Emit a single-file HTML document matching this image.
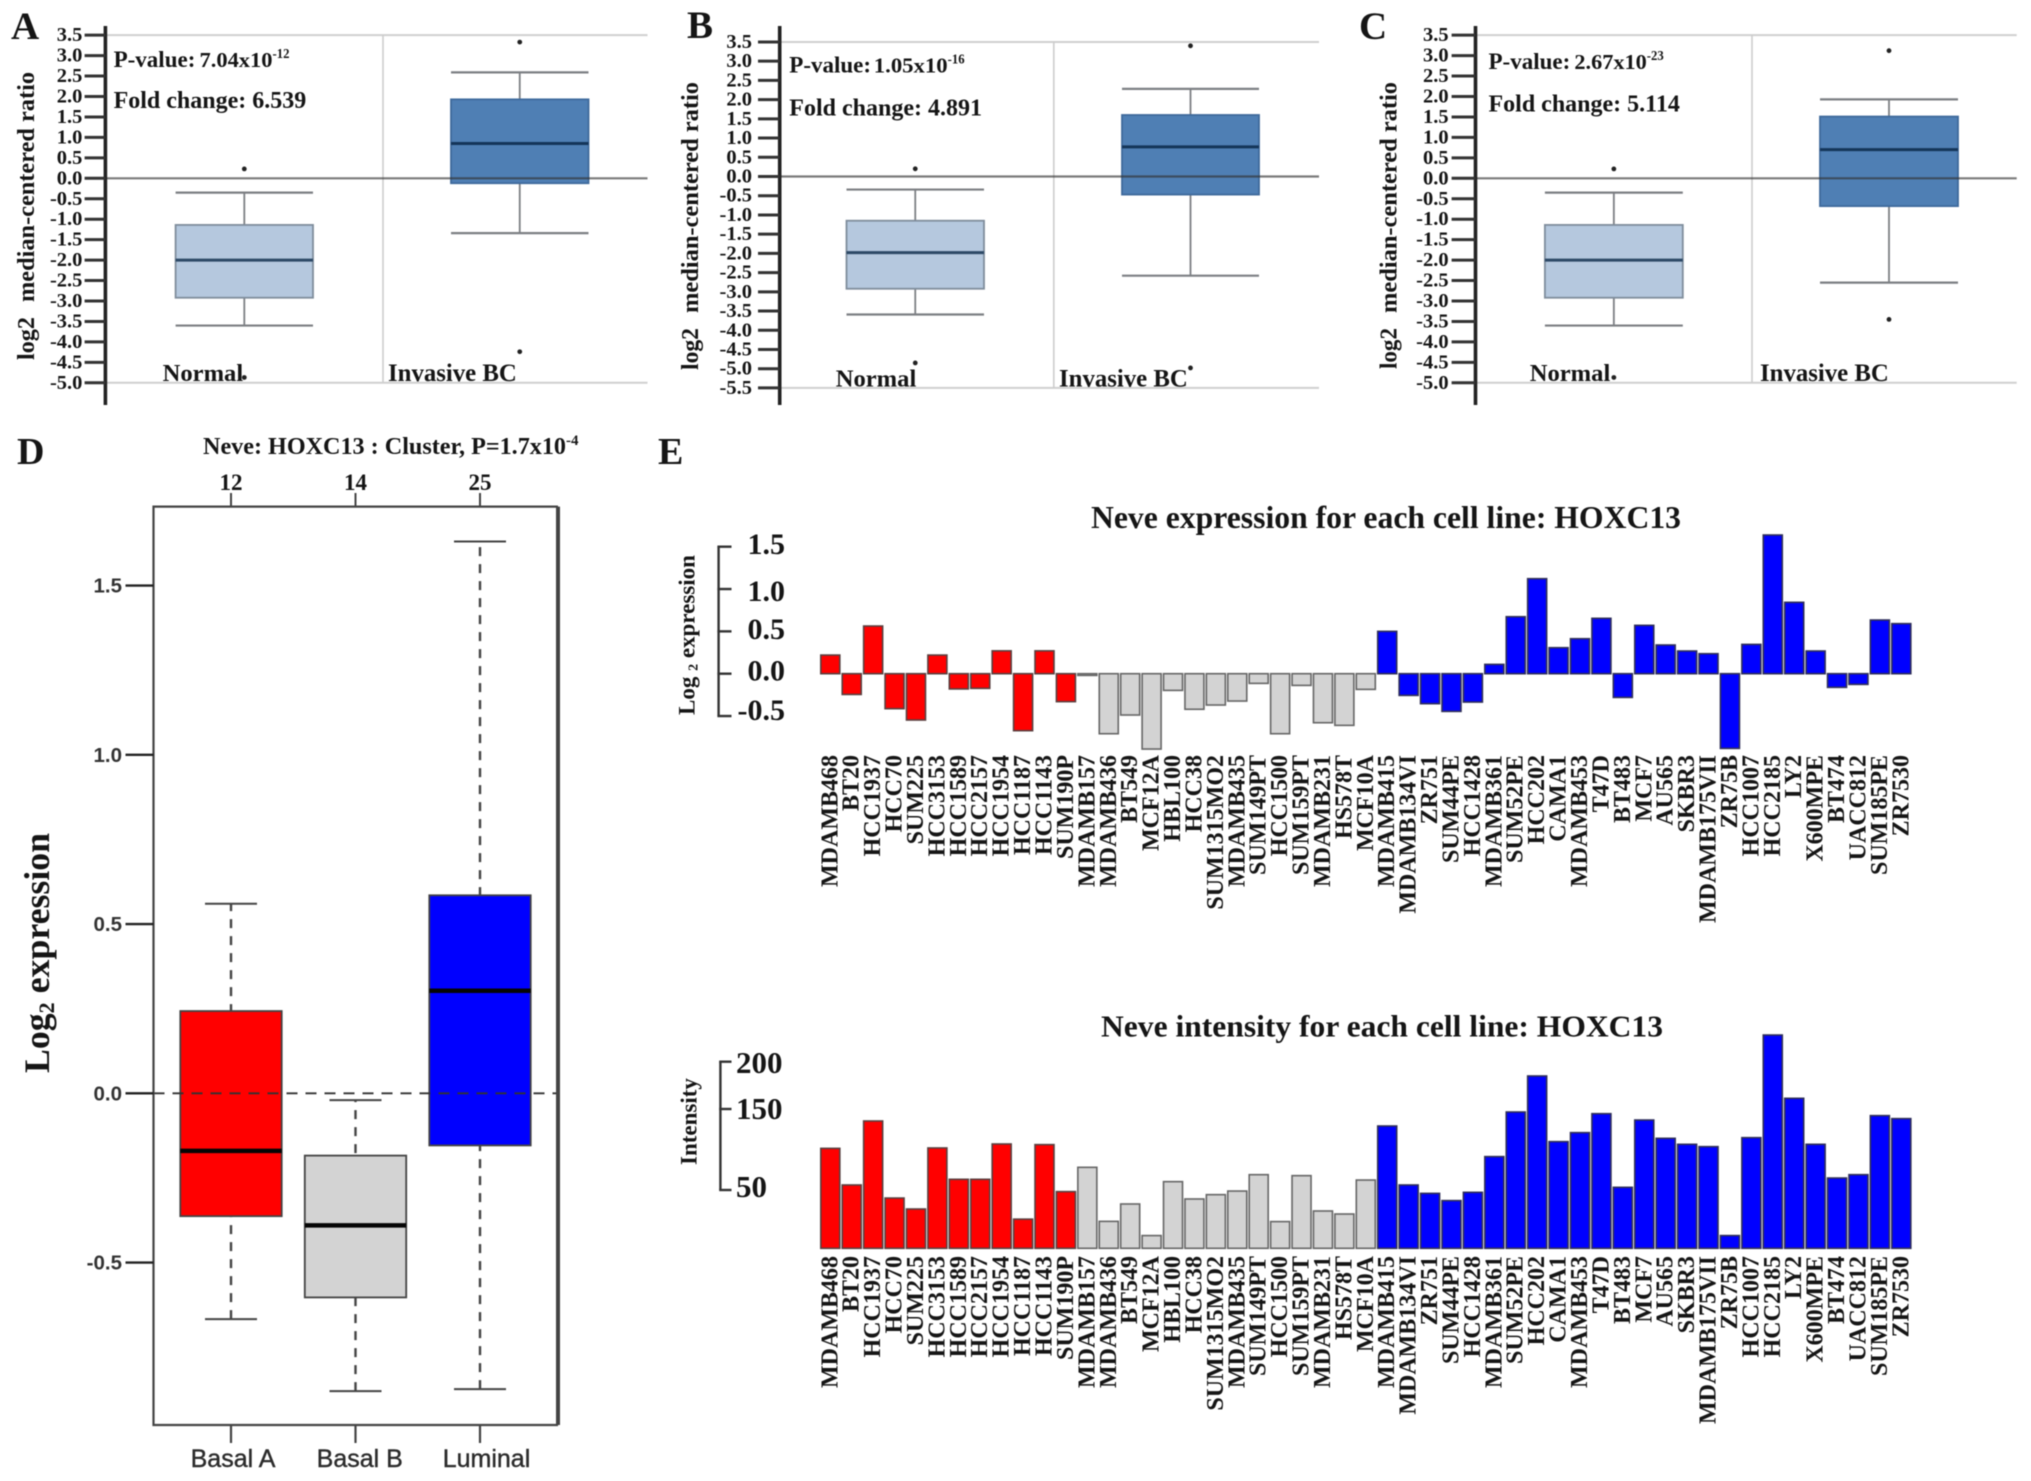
<!DOCTYPE html>
<html lang="en">
<head>
<meta charset="utf-8">
<title>HOXC13 expression figure</title>
<style>
html,body{margin:0;padding:0;background:#fff;}
svg{display:block;filter:blur(0.5px);}
text{font-family:"Liberation Serif",serif;font-weight:bold;fill:#151515;}
text.sans{font-family:"Liberation Sans",sans-serif;}
</style>
</head>
<body>
<svg id="figure" width="2031" height="1481" viewBox="0 0 2031 1481" xmlns="http://www.w3.org/2000/svg">
  <text x="11" y="39" font-size="39">A</text>
  <text x="687" y="38" font-size="39">B</text>
  <text x="1359" y="39" font-size="39">C</text>
  <text x="17" y="464" font-size="38">D</text>
  <text x="658" y="464" font-size="38">E</text>
</svg>
<script>
// ---------- Panels A-C: oncomine box plots (whiskerLow, q1, median, q3, whiskerHigh) ----------
const tickLabelsAC = [3.5,3,2.5,2,1.5,1,0.5,0,-0.5,-1,-1.5,-2,-2.5,-3,-3.5,-4,-4.5,-5];
const tickLabelsB = [3.5,3,2.5,2,1.5,1,0.5,0,-0.5,-1,-1.5,-2,-2.5,-3,-3.5,-4,-4.5,-5,-5.5];
const panelANormalBox = [-3.6,-2.92,-2.0,-1.14,-0.35];
const panelANormalOutliers = [0.23,-4.87];
const panelAInvasiveBox = [-1.34,-0.12,0.85,1.93,2.59];
const panelAInvasiveOutliers = [3.33,-4.24];
const panelBNormalBox = [-3.59,-2.92,-1.98,-1.15,-0.34];
const panelBNormalOutliers = [0.2,-4.85];
const panelBInvasiveBox = [-2.58,-0.47,0.77,1.6,2.28];
const panelBInvasiveOutliers = [3.4,-4.98];
const panelCNormalBox = [-3.6,-2.92,-2.0,-1.14,-0.35];
const panelCNormalOutliers = [0.23,-4.87];
const panelCInvasiveBox = [-2.55,-0.68,0.7,1.51,1.93];
const panelCInvasiveOutliers = [3.12,-3.45];
const panelStats = ['7.04x10','1.05x10','2.67x10'];
const panelExponents = ['-12','-16','-23'];
const panelFoldChanges = ['6.539','4.891','5.114'];

// ---------- Panel D: subtype box plot ----------
const subtypeNames = ['Basal A','Basal B','Luminal'];
const subtypeCounts = [12,14,25];
const basalABox = [-0.667,-0.363,-0.17,0.243,0.56];
const basalBBox = [-0.88,-0.603,-0.39,-0.184,-0.02];
const luminalBox = [-0.874,-0.154,0.303,0.585,1.63];
const panelDTicks = [1.5,1,0.5,0,-0.5];

// ---------- Panel E: cell line bars ----------
const cellLines = ['MDAMB468','BT20','HCC1937','HCC70','SUM225','HCC3153','HCC1589','HCC2157','HCC1954','HCC1187','HCC1143','SUM190P','MDAMB157','MDAMB436','BT549','MCF12A','HBL100','HCC38','SUM1315MO2','MDAMB435','SUM149PT','HCC1500','SUM159PT','MDAMB231','HS578T','MCF10A','MDAMB415','MDAMB134VI','ZR751','SUM44PE','HCC1428','MDAMB361','SUM52PE','HCC202','CAMA1','MDAMB453','T47D','BT483','MCF7','AU565','SKBR3','MDAMB175VII','ZR75B','HCC1007','HCC2185','LY2','X600MPE','BT474','UACC812','SUM185PE','ZR7530'];
const expressionValues = [0.22,-0.245,0.563,-0.413,-0.547,0.22,-0.18,-0.173,0.27,-0.673,0.27,-0.33,-0.02,-0.709,-0.488,-0.89,-0.197,-0.42,-0.37,-0.323,-0.114,-0.709,-0.138,-0.579,-0.61,-0.185,0.5,-0.256,-0.354,-0.445,-0.335,0.11,0.673,1.122,0.307,0.413,0.654,-0.28,0.571,0.339,0.268,0.236,-0.882,0.346,1.638,0.843,0.268,-0.161,-0.126,0.634,0.591];
const intensityValues = [101.4,56.2,135.2,43.1,33.7,101.9,63.2,63.2,106.8,25,106,48.6,78,23.1,38,10.9,60.3,42.3,46,49.1,68.9,22.9,67.7,32,29.4,62.3,129,56.2,47.1,40.9,48,91.2,146.3,184.9,109.7,120.8,144.2,53.3,136.4,113.8,106.4,103.5,10.9,114.6,228.2,161.3,106.4,64.8,68.9,141.8,138.1];
const expressionTicks = [1.5,1,0.5,0,-0.5];
const intensityTicks = [200,150,50];
const intensityAnchors = [0,50,150,200];

const NS = 'http://www.w3.org/2000/svg';
const svg = document.getElementById('figure');
function mk(tag, attrs, parent, content){
  const n = document.createElementNS(NS, tag);
  for (const k in attrs) n.setAttribute(k, attrs[k]);
  if (content !== undefined) n.textContent = content;
  (parent || svg).appendChild(n);
  return n;
}
function fmt(v){ return v.toFixed(1); }

function drawOncomineBox(g, box, outliers, layout, scale, colors, key){
  const cx = (layout.left + layout.right) / 2;
  const w = layout.right - layout.left;
  const whisker = mk('line',{x1:cx,x2:cx,y1:scale(box[0]),y2:scale(box[4]),stroke:'#7c7f83','stroke-width':1.8},g);
  
  
  [box[0], box[4]].forEach(function(v){
    const cap = mk('line',{x1:layout.left,x2:layout.right,y1:scale(v),y2:scale(v),stroke:'#7c7f83','stroke-width':2.2},g);
    
    
  });
  const rect = mk('rect',{x:layout.left,y:scale(box[3]),width:w,height:scale(box[1])-scale(box[3]),fill:colors.fill,stroke:colors.stroke,'stroke-width':1.8},g);
  
  
  const med = mk('line',{x1:layout.left,x2:layout.right,y1:scale(box[2]),y2:scale(box[2]),stroke:colors.median,'stroke-width':3},g);
  
  
  outliers.forEach(function(v){
    const dot = mk('circle',{cx:cx,cy:scale(v),r:2.4,fill:'#222'},g);
    
    
  });
}

function drawOncominePanel(p){
  const g = mk('g',{},svg);
  
  
  const y = function(v){ return p.zero - v * p.unit; };
  const top = y(p.ticks[0]), bottom = y(p.ticks[p.ticks.length-1]);
  [top, bottom].forEach(function(yy){
    const line = mk('line',{x1:p.axisX,x2:p.gridRight,y1:yy,y2:yy,stroke:'#cfcfcf','stroke-width':2},g);
    
    
  });
  const vert = mk('line',{x1:p.divider,x2:p.divider,y1:top,y2:bottom,stroke:'#cdcdcd','stroke-width':1.6},g);
  
  
  drawOncomineBox(g, p.normalBox, p.normalOutliers, p.normalLayout, y, {fill:'#b5c8de',stroke:'#7f8d9c',median:'#2d4966'}, p.key + '-normal');
  drawOncomineBox(g, p.invasiveBox, p.invasiveOutliers, p.invasiveLayout, y, {fill:'#4f7fb4',stroke:'#3f6a9c',median:'#143559'}, p.key + '-invasive');
  const zero = mk('line',{x1:p.axisX,x2:p.gridRight,y1:y(0),y2:y(0),stroke:'#333','stroke-opacity':0.65,'stroke-width':2.2},g);
  
  
  const axis = mk('line',{x1:p.axisX,x2:p.axisX,y1:26,y2:405,stroke:'#222','stroke-width':3.6},g);
  
  
  p.ticks.forEach(function(v){
    const t = mk('line',{x1:p.tickLeft,x2:p.axisX,y1:y(v),y2:y(v),stroke:'#333','stroke-width':3},g);
    
    
    const l = mk('text',{x:p.labelRight,y:y(v)+6,'font-size':20.5,'text-anchor':'end'},g,fmt(v));
    
    
  });
  const t1 = mk('text',{x:p.titleX,y:p.log2Start,'font-size':24,textLength:p.log2Start-p.log2End,lengthAdjust:'spacingAndGlyphs',transform:'rotate(-90 '+p.titleX+' '+p.log2Start+')'},g,'log2');
  
  
  const t2 = mk('text',{x:p.titleX,y:p.ratioStart,'font-size':24,textLength:p.ratioStart-p.ratioEnd,lengthAdjust:'spacingAndGlyphs',transform:'rotate(-90 '+p.titleX+' '+p.ratioStart+')'},g,'median-centered ratio');
  
  
  const pv = mk('text',{x:p.statX,y:p.pBase,'font-size':23},g,'P-value:');
  
  
  const pn = mk('text',{x:p.numX,y:p.pBase,'font-size':21,textLength:p.supX-p.numX,lengthAdjust:'spacingAndGlyphs'},g,panelStats[p.index]);
  
  
  const px = mk('text',{x:p.supX,y:p.pBase-9,'font-size':14,textLength:17,lengthAdjust:'spacingAndGlyphs'},g,panelExponents[p.index]);
  
  
  const fc = mk('text',{x:p.statX,y:p.foldBase,'font-size':24},g,'Fold change: ' + panelFoldChanges[p.index]);
  
  
  const n1 = mk('text',{x:p.normalX,y:p.catBase,'font-size':24.6},g,'Normal');
  
  
  const n2 = mk('text',{x:p.invasiveX,y:p.catBase,'font-size':24.8},g,'Invasive BC');
  
  
}

drawOncominePanel({key:'panel-a',index:0,ticks:tickLabelsAC,zero:178.3,unit:40.9,axisX:105.4,tickLeft:84.6,labelRight:82.4,gridRight:647.5,divider:383,
  normalBox:panelANormalBox,normalOutliers:panelANormalOutliers,invasiveBox:panelAInvasiveBox,invasiveOutliers:panelAInvasiveOutliers,
  normalLayout:{left:175.6,right:313},invasiveLayout:{left:451,right:588.5},
  titleX:33.8,log2Start:360,log2End:317,ratioStart:302,ratioEnd:72,statX:113.6,numX:199.5,supX:272.5,pBase:67,foldBase:108,normalX:162.6,invasiveX:388,catBase:381});
drawOncominePanel({key:'panel-b',index:1,ticks:tickLabelsB,zero:176.5,unit:38.44,axisX:779.7,tickLeft:758,labelRight:752,gridRight:1319,divider:1053.8,
  normalBox:panelBNormalBox,normalOutliers:panelBNormalOutliers,invasiveBox:panelBInvasiveBox,invasiveOutliers:panelBInvasiveOutliers,
  normalLayout:{left:846.5,right:984},invasiveLayout:{left:1122,right:1259},
  titleX:698,log2Start:370,log2End:328,ratioStart:313,ratioEnd:82,statX:789.3,numX:873.8,supX:947.6,pBase:72.7,foldBase:115.7,normalX:835.7,invasiveX:1059,catBase:386.7});
drawOncominePanel({key:'panel-c',index:2,ticks:tickLabelsAC,zero:178.3,unit:40.9,axisX:1475.5,tickLeft:1451.6,labelRight:1448.6,gridRight:2016.7,divider:1752,
  normalBox:panelCNormalBox,normalOutliers:panelCNormalOutliers,invasiveBox:panelCInvasiveBox,invasiveOutliers:panelCInvasiveOutliers,
  normalLayout:{left:1544.9,right:1682.8},invasiveLayout:{left:1820,right:1958},
  titleX:1396.5,log2Start:369,log2End:328,ratioStart:313,ratioEnd:82,statX:1488.5,numX:1574.4,supX:1646.8,pBase:69,foldBase:111.7,normalX:1529.7,invasiveX:1760,catBase:381});

// ---------- Panel D drawing ----------
(function(){
  const g = mk('g',{},svg);
  
  
  const frame = {left:153.5,right:558,top:506.6,bottom:1425};
  const y = function(v){ return 1093.3 - v * 338.5; };
  const centers = function(i){ return 231 + i * 124.5; };
  const boxes = [basalABox, basalBBox, luminalBox];
  const fills = ['#ff0000','#d3d3d3','#0000ff'];
  const halfBox = 50.7, halfCap = 26;
  const title = mk('text',{x:203,y:454,'font-size':24,textLength:363,lengthAdjust:'spacingAndGlyphs'},g,'Neve: HOXC13 : Cluster, P=1.7x10');
  
  
  const sup = mk('text',{x:566,y:445,'font-size':15},g,'-4');
  
  
  boxes.forEach(function(box, i){
    const cx = centers(i);
    const key = 'box-' + subtypeNames[i].toLowerCase().replace(' ','-');
    const w = mk('line',{x1:cx,x2:cx,y1:y(box[0]),y2:y(box[4]),stroke:'#444','stroke-width':2.4,'stroke-dasharray':'9 8'},g);
    
    
    [box[0],box[4]].forEach(function(v){
      const c = mk('line',{x1:cx-halfCap,x2:cx+halfCap,y1:y(v),y2:y(v),stroke:'#444','stroke-width':2},g);
      
      
    });
    const r = mk('rect',{x:cx-halfBox,y:y(box[3]),width:halfBox*2,height:y(box[1])-y(box[3]),fill:fills[i],stroke:'#444','stroke-width':1.8},g);
    
    
    const m = mk('line',{x1:cx-halfBox,x2:cx+halfBox,y1:y(box[2]),y2:y(box[2]),stroke:'#050505','stroke-width':4.5},g);
    
    
    const topTick = mk('line',{x1:cx,x2:cx,y1:493,y2:frame.top,stroke:'#444','stroke-width':2},g);
    
    
    const count = mk('text',{x:cx,y:490,'font-size':23,'text-anchor':'middle'},g,String(subtypeCounts[i]));
    
    
    const bt = mk('line',{x1:cx,x2:cx,y1:frame.bottom,y2:1443,stroke:'#444','stroke-width':2.2},g);
    
    
    const lx = cx + 2 + i * 2.25;
    const lbl = mk('text',{x:lx,y:1467,'font-size':25,'text-anchor':'middle',class:'sans',style:'font-weight:normal;fill:#2c2c2c;stroke:#2c2c2c;stroke-width:0.4'},g,subtypeNames[i]);
    
    
  });
  const dash = mk('line',{x1:frame.left,x2:frame.right,y1:y(0),y2:y(0),stroke:'#333','stroke-width':1.8,'stroke-dasharray':'11 8'},g);
  
  
  const fr = mk('path',{d:'M'+frame.right+' '+frame.top+'H'+frame.left+'V'+frame.bottom+'H'+frame.right,fill:'none',stroke:'#444','stroke-width':2.2},g);
  
  
  const rightEdge = mk('line',{x1:frame.right,x2:frame.right,y1:frame.top,y2:frame.bottom,stroke:'#444','stroke-width':4},g);
  
  
  panelDTicks.forEach(function(v){
    const t = mk('line',{x1:125.5,x2:frame.left,y1:y(v),y2:y(v),stroke:'#222','stroke-width':2.4},g);
    
    
    const l = mk('text',{x:122,y:y(v)+7,'font-size':20.5,'text-anchor':'end',class:'sans',style:'fill:#333'},g,fmt(v));
    
    
  });
  const yt = mk('text',{x:49,y:1073,'font-size':35.8,transform:'rotate(-90 49 1073)'},g);
  
  
  mk('tspan',{},yt,'Log');
  mk('tspan',{dy:5,'font-size':22},yt,'2');
  mk('tspan',{dy:-5},yt,' expression');
})();

// ---------- Panel E drawing ----------
const barLeft = function(i){ return 820.8 + i * 21.42; };
const barWidth = 19;
function subtypeIndex(i){
  if (i < subtypeCounts[0]) return 0;
  if (i < subtypeCounts[0] + subtypeCounts[1]) return 1;
  return 2;
}
const barFills = ['#ff0000','#d3d3d3','#0000ff'];
const barStrokes = ['#5a4040','#666666','#30305a'];
const yExpression = function(v){ return 673.7 - v * 84.67; };
const yIntensity = function(v){
  const px = [1248.3,1190,1109,1061.7];
  let k = intensityAnchors.length - 2;
  for (let i = 0; i < intensityAnchors.length - 1; i++){ if (v <= intensityAnchors[i+1]) { k = i; break; } }
  const t = (v - intensityAnchors[k]) / (intensityAnchors[k+1] - intensityAnchors[k]);
  return px[k] + t * (px[k+1] - px[k]);
};

function drawBars(key, values, scale, labelTop){
  const g = mk('g',{},svg);
  
  
  const zero = scale(0);
  values.forEach(function(v, i){
    const s = subtypeIndex(i);
    const yy = Math.min(scale(v), zero);
    const h = Math.abs(scale(v) - zero);
    const r = mk('rect',{x:barLeft(i),y:yy,width:barWidth,height:h,fill:barFills[s],stroke:barStrokes[s],'stroke-width':1.6},g);
    
    
    const lx = barLeft(i) + 16.5;
    const l = mk('text',{x:lx,y:labelTop,'font-size':24,'text-anchor':'end',transform:'rotate(-90 '+lx+' '+labelTop+')'},g,cellLines[i]);
    
    
  });
}
drawBars('expression-chart', expressionValues, yExpression, 755);
drawBars('intensity-chart', intensityValues, yIntensity, 1256);

(function(){
  const g = mk('g',{},svg);
  
  
  const t = mk('text',{x:1091,y:528,'font-size':31.5,textLength:590,lengthAdjust:'spacingAndGlyphs'},g,'Neve expression for each cell line: HOXC13');
  
  
  const axis = mk('line',{x1:718.6,x2:718.6,y1:yExpression(expressionTicks[0]),y2:yExpression(expressionTicks[expressionTicks.length-1]),stroke:'#333','stroke-width':2.4},g);
  
  
  const labelDrop = [7.3,12,7.7,7,4];
  expressionTicks.forEach(function(v, i){
    const tk = mk('line',{x1:717.4,x2:731.5,y1:yExpression(v),y2:yExpression(v),stroke:'#333','stroke-width':2.4},g);
    
    
    const l = mk('text',{x:785,y:yExpression(v)+labelDrop[i],'font-size':30,'text-anchor':'end'},g,fmt(v));
    
    
  });
  const yt = mk('text',{x:694.5,y:715,'font-size':23,transform:'rotate(-90 694.5 715)'},g);
  
  
  mk('tspan',{},yt,'Log ');
  mk('tspan',{dy:3,'font-size':14},yt,'2');
  mk('tspan',{dy:-3},yt,' expression');

  const g2 = mk('g',{},svg);
  
  
  const t2 = mk('text',{x:1101,y:1036.7,'font-size':31,textLength:562,lengthAdjust:'spacingAndGlyphs'},g2,'Neve intensity for each cell line: HOXC13');
  
  
  const ax2 = mk('line',{x1:720.4,x2:720.4,y1:yIntensity(intensityTicks[0]),y2:yIntensity(intensityTicks[intensityTicks.length-1]),stroke:'#333','stroke-width':2.4},g2);
  
  
  const intensityDrop = [11.3,10,7];
  intensityTicks.forEach(function(v, i){
    const tk = mk('line',{x1:719.2,x2:731.5,y1:yIntensity(v),y2:yIntensity(v),stroke:'#333','stroke-width':2.4},g2);
    
    
    const l = mk('text',{x:736,y:yIntensity(v)+intensityDrop[i],'font-size':31},g2,String(v));
    
    
  });
  const yt2 = mk('text',{x:696.7,y:1165,'font-size':23,transform:'rotate(-90 696.7 1165)'},g2,'Intensity');
  
  
})();
</script>
</body>
</html>
